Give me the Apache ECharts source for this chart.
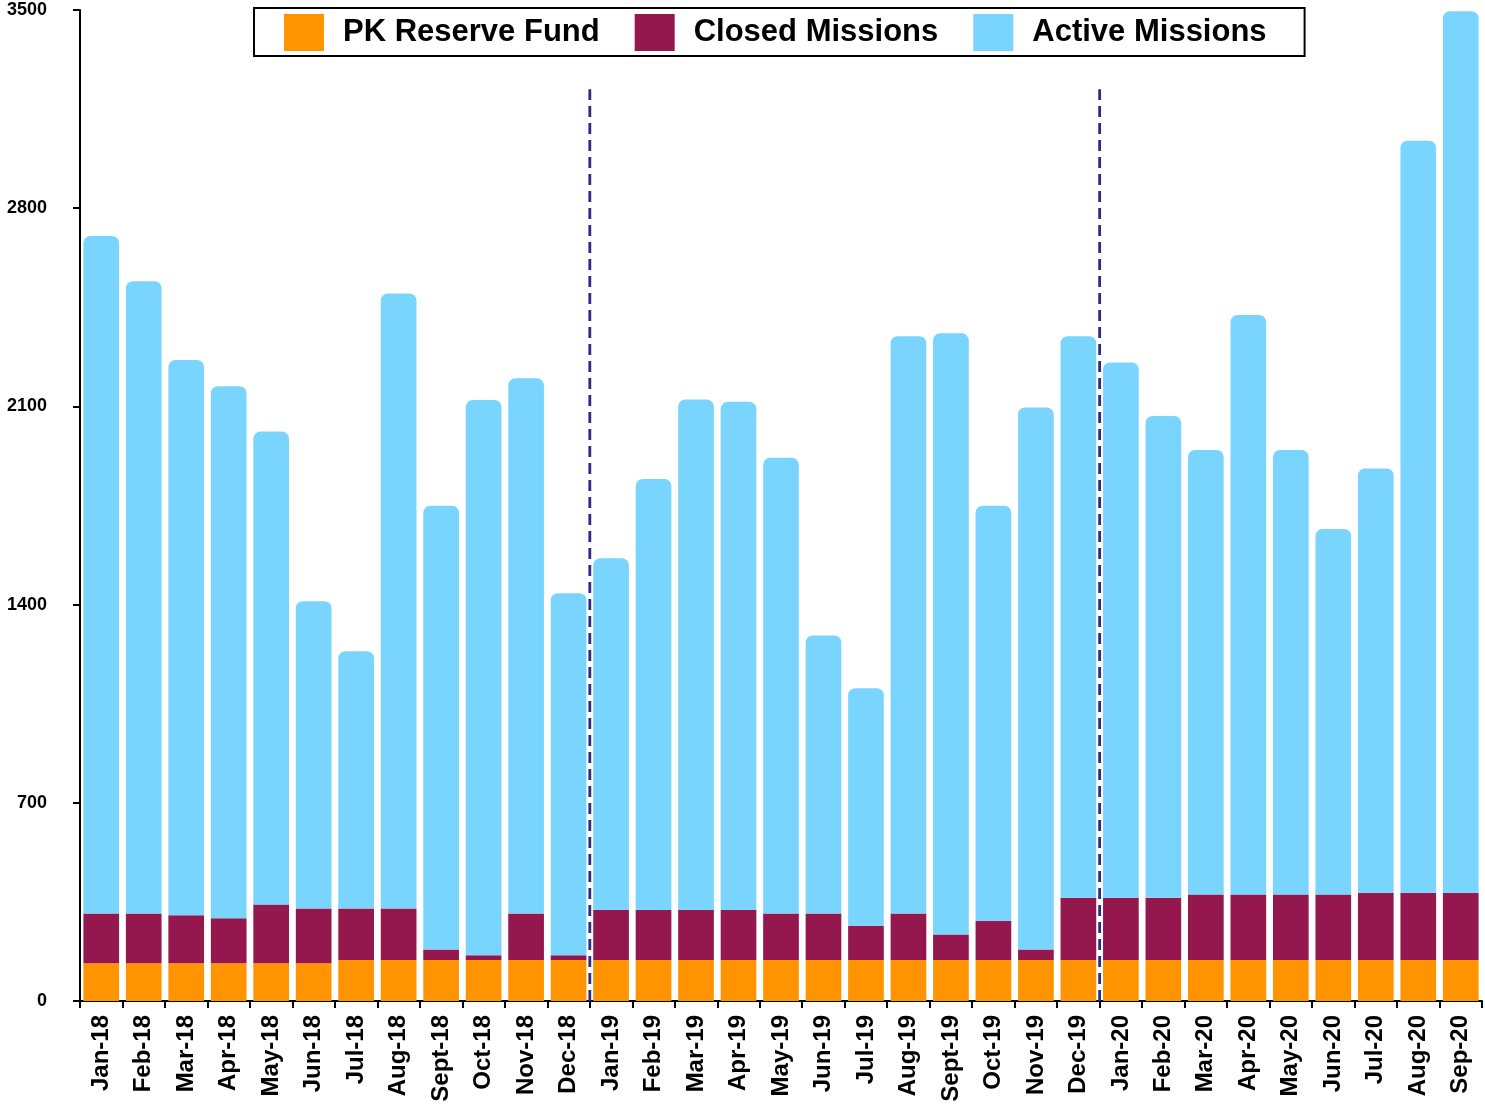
<!DOCTYPE html>
<html>
<head>
<meta charset="utf-8">
<script src="https://cdn.jsdelivr.net/npm/echarts@6/dist/echarts.min.js"></script>
<style>
  html, body { margin: 0; padding: 0; background: #fff; }
  #chart { width: 1485px; height: 1109px; }
</style>
</head>
<body>
<div id="chart"></div>
<script>
var months = ['Jan-18', 'Feb-18', 'Mar-18', 'Apr-18', 'May-18', 'Jun-18', 'Jul-18', 'Aug-18', 'Sept-18', 'Oct-18', 'Nov-18', 'Dec-18',
              'Jan-19', 'Feb-19', 'Mar-19', 'Apr-19', 'May-19', 'Jun-19', 'Jul-19', 'Aug-19', 'Sept-19', 'Oct-19', 'Nov-19', 'Dec-19',
              'Jan-20', 'Feb-20', 'Mar-20', 'Apr-20', 'May-20', 'Jun-20', 'Jul-20', 'Aug-20', 'Sep-20'];

var reserveFund = [133, 133, 133, 133, 133, 133, 145, 145, 145, 145, 145, 145,
                   145, 145, 145, 145, 145, 145, 145, 145, 145, 145, 145, 145,
                   145, 145, 145, 145, 145, 145, 145, 145, 145];

var closedMissions = [176, 176, 170, 159, 208, 194, 182, 182, 37, 17, 164, 17,
                      176, 176, 176, 176, 164, 164, 121, 164, 90, 138, 37, 220,
                      220, 220, 231, 231, 231, 231, 237, 237, 237];

var activeMissions = [2393, 2233, 1961, 1879, 1670, 1085, 908, 2172, 1567, 1961, 1890, 1278,
                      1243, 1523, 1803, 1795, 1610, 982, 839, 2039, 2123, 1466, 1914, 1983,
                      1890, 1701, 1570, 2047, 1570, 1291, 1499, 2656, 3114];

var yTicks = { min: 0, max: 3500, step: 700 };

// year boundaries, counted in categories from the left
var yearBreaks = [12, 24];
var breakTop = 3220;

var font = "'Liberation Sans', Arial, sans-serif";

var chart = echarts.init(document.getElementById('chart'));

var series = [
  { name: 'PK Reserve Fund', type: 'bar', stack: 'total', data: reserveFund,
    barCategoryGap: '16%', itemStyle: { color: '#ff9300' } },
  { name: 'Closed Missions', type: 'bar', stack: 'total', data: closedMissions,
    itemStyle: { color: '#94184e' } },
  { name: 'Active Missions', type: 'bar', stack: 'total', data: activeMissions,
    itemStyle: { color: '#7ad5fe', borderRadius: [7, 7, 0, 0] } }
];

yearBreaks.forEach(function (b) {
  series.push({
    type: 'line',
    xAxisIndex: 1,
    data: [[b, 0], [b, breakTop]],
    symbol: 'none',
    silent: true,
    z: 5,
    lineStyle: { color: '#2b2a85', width: 2.8, type: [11, 6] }
  });
});

chart.setOption({
  animation: false,
  textStyle: { fontFamily: font },
  grid: { left: 80, right: 3, top: 10, bottom: 108, outerBoundsMode: 'none', containLabel: false },
  legend: {
    data: ['PK Reserve Fund', 'Closed Missions', 'Active Missions'],
    left: 254,
    top: 8,
    padding: [6, 38, 5, 30],
    itemGap: 35,
    itemWidth: 40,
    itemHeight: 37,
    borderColor: '#000',
    borderWidth: 2,
    selectedMode: false,
    icon: 'rect',
    textStyle: {
      fontFamily: font,
      fontWeight: 'bold',
      fontSize: 31,
      color: '#000',
      padding: [3, 0, 0, 14]
    }
  },
  xAxis: [{
    type: 'category',
    data: months,
    axisLine: { lineStyle: { color: '#000', width: 2 } },
    axisTick: { show: true, length: 7, lineStyle: { color: '#000', width: 2 } },
    axisLabel: {
      interval: 0,
      rotate: 90,
      margin: 14,
      fontFamily: font,
      fontWeight: 'bold',
      fontSize: 24,
      color: '#000'
    }
  }, {
    type: 'value',
    min: 0,
    max: months.length,
    show: false
  }],
  yAxis: {
    type: 'value',
    min: yTicks.min,
    max: yTicks.max,
    interval: yTicks.step,
    splitLine: { show: false },
    axisLine: { show: true, lineStyle: { color: '#000', width: 2 } },
    axisTick: { show: true, length: 7, lineStyle: { color: '#000', width: 2 } },
    axisLabel: {
      margin: 33,
      fontFamily: font,
      fontWeight: 'bold',
      fontSize: 18,
      color: '#000',
      formatter: function (v) { return String(v); }
    }
  },
  series: series
});
</script>
</body>
</html>
